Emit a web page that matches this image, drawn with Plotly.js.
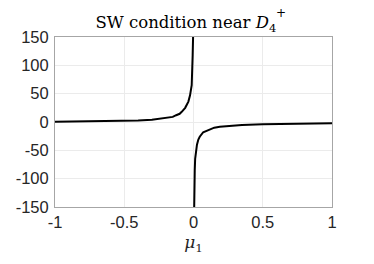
<!DOCTYPE html>
<html>
<head>
<meta charset="utf-8">
<script src="https://cdn.plot.ly/plotly-3.0.1.min.js"></script>
<style>html,body{margin:0;padding:0;background:#fff;}#chart{width:374px;height:264px;}</style>
</head>
<body>
<div id="chart"></div>
<script>
// Left branch (mu1 < 0)
var muLeft = [-1, -0.8, -0.6, -0.5, -0.4, -0.3, -0.2, -0.15, -0.125, -0.1, -0.085, -0.06, -0.037, -0.025, -0.013, -0.009, -0.006, -0.003, -0.002];
var swLeft = [0.5, 0.8, 1.4, 2.0, 2.6, 4.0, 6.5, 9.0, 12, 14.5, 18, 25, 36, 47, 65, 85, 118, 150, 200];
// Right branch (mu1 > 0)
var muRight = [0.002, 0.003, 0.006, 0.009, 0.012, 0.018, 0.025, 0.035, 0.045, 0.07, 0.105, 0.15, 0.19, 0.25, 0.35, 0.5, 0.7, 1];
var swRight = [-200, -150, -100, -85, -65, -50, -40, -31, -26, -18, -14, -10, -8.2, -7, -5.3, -4, -3, -2.4];

var xTickVals = [-1, -0.5, 0, 0.5, 1];
var xTickText = ['-1', '-0.5', '0', '0.5', '1'];
var yTickVals = [-150, -100, -50, 0, 50, 100, 150];
var yTickText = ['-150', '-100', '-50', '0', '50', '100', '150'];

var xs = muLeft.concat([null], muRight);
var ys = swLeft.concat([null], swRight);

var trace = {
  x: xs, y: ys, type: 'scatter', mode: 'lines',
  line: {color: '#000000', width: 2},
  connectgaps: false, hoverinfo: 'skip'
};

var serif = 'DejaVu Serif, Liberation Serif, serif';
var axisCommon = {
  showline: true, mirror: true, linecolor: '#a6a6a6', linewidth: 1,
  showgrid: true, gridcolor: '#ebebeb', gridwidth: 1,
  zeroline: false, ticks: '', tickfont: {family: 'Liberation Sans, Arial, sans-serif', size: 16.5, color: '#262626'}
};

var layout = {
  width: 374, height: 264,
  margin: {l: 55, r: 42, t: 37, b: 57},
  paper_bgcolor: '#ffffff', plot_bgcolor: '#ffffff',
  showlegend: false,
  title: {
    text: 'SW condition near <i>D</i><sub>4</sub>',
    font: {family: serif, size: 16.5, color: '#000000'},
    x: 0.497, xanchor: 'center', y: 0.915, yanchor: 'middle'
  },
  annotations: [{
    text: '+', xref: 'paper', yref: 'paper', x: 0.816, y: 1.14,
    xanchor: 'center', yanchor: 'middle', showarrow: false,
    font: {family: serif, size: 12, color: '#000000'}
  }],
  xaxis: Object.assign({}, axisCommon, {
    range: [-1, 1], tickmode: 'array', tickvals: xTickVals, ticktext: xTickText,
    title: {text: '<i>μ</i><sub>1</sub>', font: {family: serif, size: 17, color: '#262626'}, standoff: 6}
  }),
  yaxis: Object.assign({}, axisCommon, {
    range: [-150, 150], tickmode: 'array', tickvals: yTickVals, ticktext: yTickText,
    ticklabelstandoff: 2
  })
};

Plotly.newPlot('chart', [trace], layout, {displayModeBar: false, staticPlot: true});
</script>
</body>
</html>
